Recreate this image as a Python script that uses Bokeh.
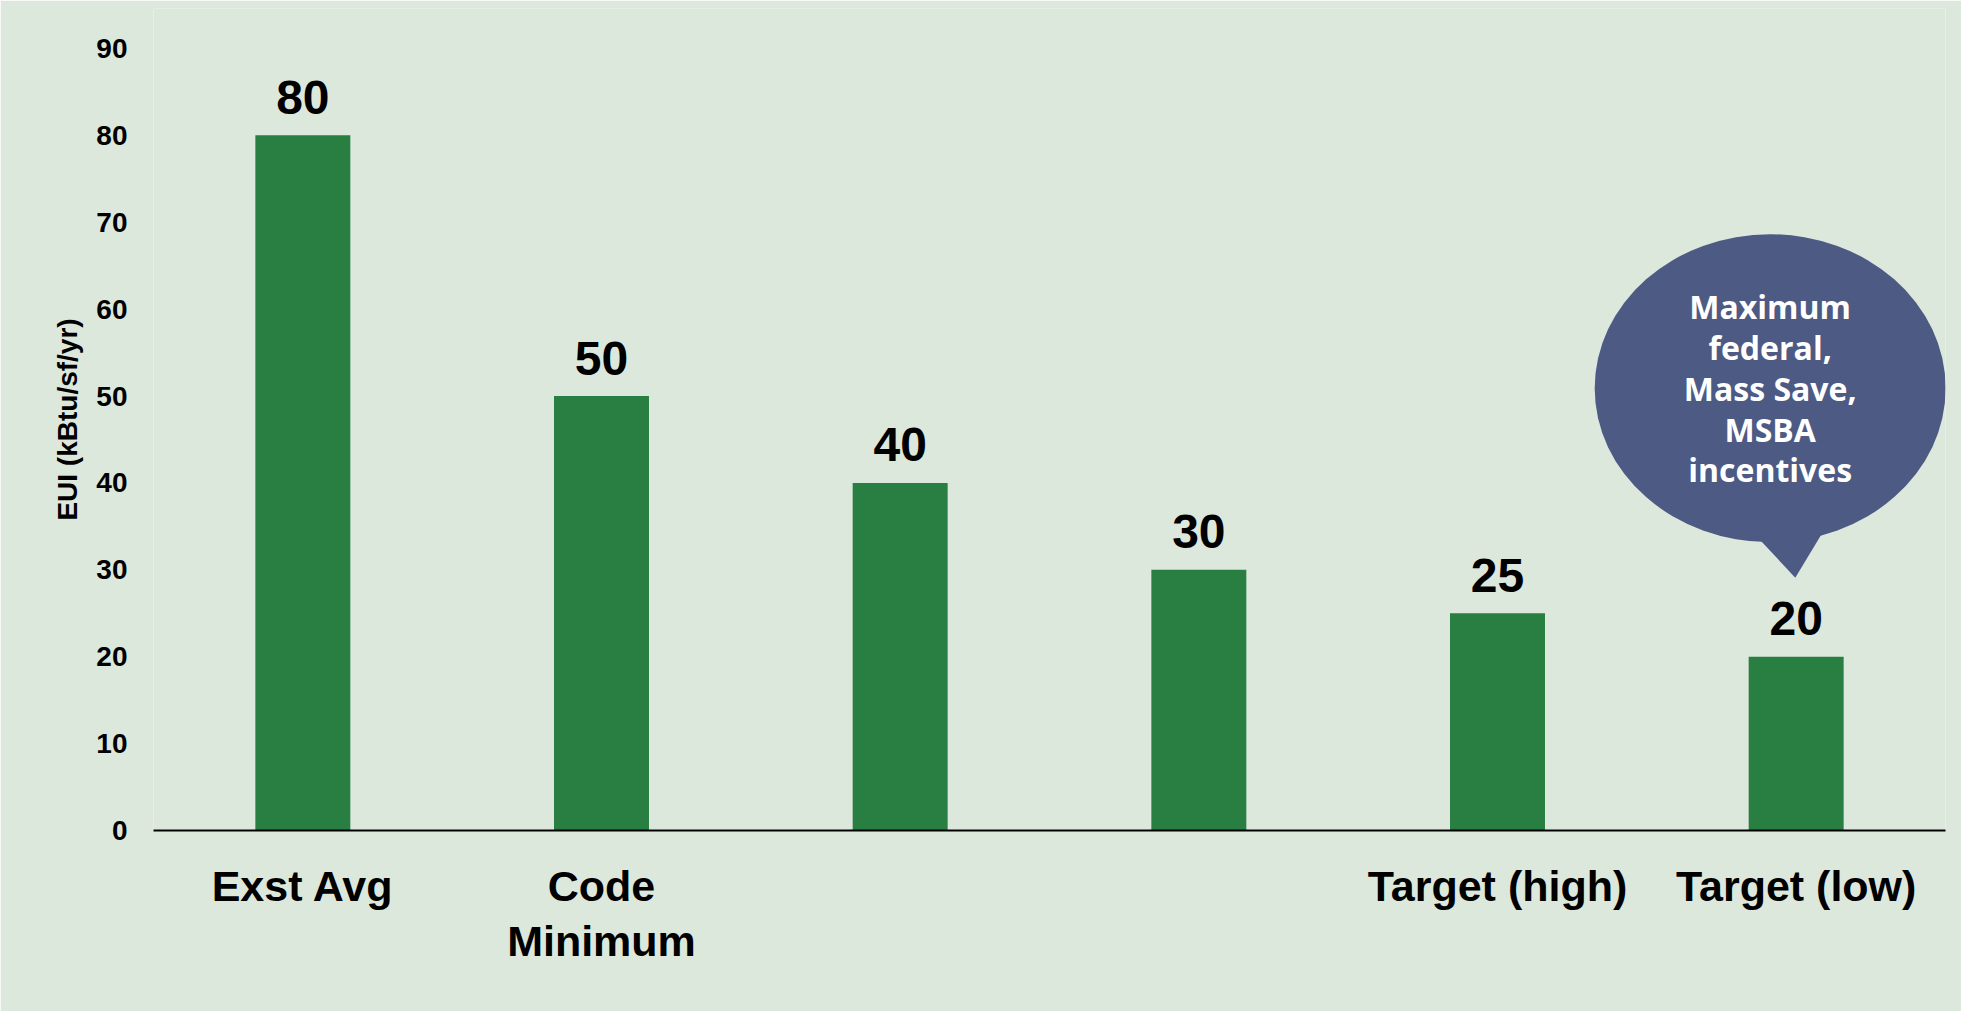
from bokeh.plotting import figure
from bokeh.models import Range1d, FixedTicker, ColumnDataSource
from bokeh.core.properties import value
from bokeh.embed import file_html
from bokeh.resources import INLINE

# ---- data ----
categories = ["Exst Avg", "Code\nMinimum", "", "", "Target (high)", "Target (low)"]
eui_values = [80, 50, 40, 30, 25, 20]
y_ticks = [0, 10, 20, 30, 40, 50, 60, 70, 80, 90]
y_title = "EUI (kBtu/sf/yr)"
callout_text = "Maximum\nfederal,\nMass Save,\nMSBA\nincentives"

BG = "#DDE8DD"
GREEN = "#287F41"
BUBBLE = "#4C5A84"

xs = [i + 0.5 for i in range(len(categories))]

p = figure(width=1961, height=1011, output_backend="svg", toolbar_location=None,
           x_range=Range1d(0, len(categories)), y_range=Range1d(0, 94.6),
           min_border_left=153, min_border_right=16, min_border_top=8,
           min_border_bottom=181)
p.background_fill_color = BG
p.border_fill_color = BG
p.outline_line_color = None
p.grid.visible = False

src = ColumnDataSource(dict(x=xs, top=eui_values, lbl=[str(v) for v in eui_values]))
p.vbar(x="x", top="top", width=0.318, bottom=0, source=src,
       fill_color=GREEN, line_color=None)
p.text(x="x", y="top", text="lbl", source=src, text_align="center",
       text_baseline="alphabetic", y_offset=-38,
       text_font=value("Liberation Sans"), text_font_style="bold",
       text_font_size="48px", text_color="black")

# callout bubble attached to the last bar
bx = xs[-1] - 0.087
p.ellipse(x=[bx], y=[50.9], width=351, height=308, width_units="screen",
          height_units="screen", fill_color=BUBBLE, line_color=None)
p.patch(x=[xs[-1] - 0.131, xs[-1] + 0.094, xs[-1] - 0.003],
        y=[33.8, 34.6, 29.1], fill_color=BUBBLE, line_color=None)
p.text(x=[bx], y=[50.9], text=[callout_text], text_align="center",
       text_baseline="middle", text_line_height=0.95,
       text_font=value("Open Sans"), text_font_style="bold",
       text_font_size="32px", text_color="white")

# x axis
xa = p.xaxis[0]
xa.ticker = FixedTicker(ticks=xs)
xa.major_label_overrides = {x: c for x, c in zip(xs, categories)}
xa.axis_line_color = "black"
xa.axis_line_width = 2
xa.major_tick_line_color = None
xa.minor_tick_line_color = None
xa.major_tick_out = 0
xa.major_tick_in = 0
xa.major_label_standoff = 31
xa.major_label_text_font = "Liberation Sans"
xa.major_label_text_font_style = "bold"
xa.major_label_text_font_size = "43px"
xa.major_label_text_color = "black"
xa.major_label_text_line_height = 1.15

# y axis
ya = p.yaxis[0]
ya.ticker = FixedTicker(ticks=y_ticks)
ya.axis_line_color = None
ya.major_tick_line_color = None
ya.minor_tick_line_color = None
ya.major_tick_out = 0
ya.major_tick_in = 0
ya.major_label_standoff = 26
ya.major_label_text_font = "Liberation Sans"
ya.major_label_text_font_style = "bold"
ya.major_label_text_font_size = "28px"
ya.major_label_text_color = "black"
ya.axis_label = y_title
ya.axis_label_text_font = "Liberation Sans"
ya.axis_label_text_font_style = "bold"
ya.axis_label_text_font_size = "28px"
ya.axis_label_standoff = 10
ya.axis_label_text_color = "black"

open("out.html", "w").write(file_html(p, INLINE))
